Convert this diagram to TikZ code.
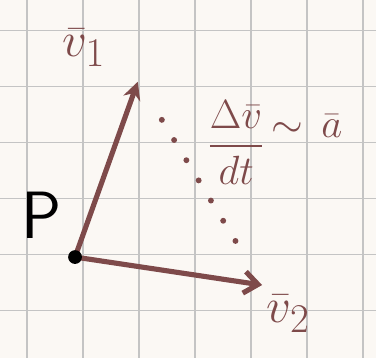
\documentclass[tikz,border=0pt]{standalone}
\usepackage{amsmath,amssymb}
\usepackage{tikz}
\usetikzlibrary{arrows.meta,calc}
\definecolor{ink}{HTML}{7E4A4A}
\definecolor{paper}{HTML}{FBF8F4}
\definecolor{gridgray}{HTML}{C4C4C4}
\def\vb{\bar{v}}
\def\ab{\bar{a}}

\begin{document}
\begin{tikzpicture}
%\draw[help lines] (0,-7) grid (7,0);
\fill[paper] (0,0) rectangle (6.714,-6.393);
\useasboundingbox (0,0) rectangle (6.714,-6.393);
\foreach \i in {0,...,6} \draw[gridgray,line width=0.7pt] (0.48+\i,0)--(0.48+\i,-6.393);
\foreach \j in {0,...,5} \draw[gridgray,line width=0.7pt] (0,-0.54-\j)--(6.714,-0.54-\j);

\coordinate (P) at (1.34,-4.59);
\coordinate (v1) at (2.46,-1.46);
\coordinate (v2) at (4.68,-5.09);
\coordinate (d1) at (2.89,-2.14);
\coordinate (d2) at (4.27,-4.41);

\draw[ink,line width=2.6pt,line cap=round,-{Stealth[length=9pt,width=9pt]}] (P)--(v1);
\draw[ink,line width=2.6pt,line cap=round,-{Straight Barb[length=7pt,width=11pt]}] (P)--(v2);
\draw[ink,line width=3pt,line cap=round,dash pattern=on 0pt off 12pt] (d1)--(d2);
\fill (P) circle(3.5pt);

\node (lP) at (0.75,-3.84) {\fontsize{34}{40}\selectfont\textsf{P}};
\node[ink] (lv1) at (1.5,-0.85) {\fontsize{28}{32}\selectfont$\vb_{1}$};
\node[ink] (lv2) at (5.15,-5.6) {\fontsize{28}{32}\selectfont$\vb_{2}$};
\node[ink,anchor=west,inner sep=0pt] (lacc) at (3.7,-2.55) {\fontsize{22}{26}\selectfont$\dfrac{\Delta\vb}{dt}\,\raisebox{0.45em}{$\sim\,\ab$}$};
%\node at (5,-1) {$\vec a$};
\end{tikzpicture}
\end{document}
